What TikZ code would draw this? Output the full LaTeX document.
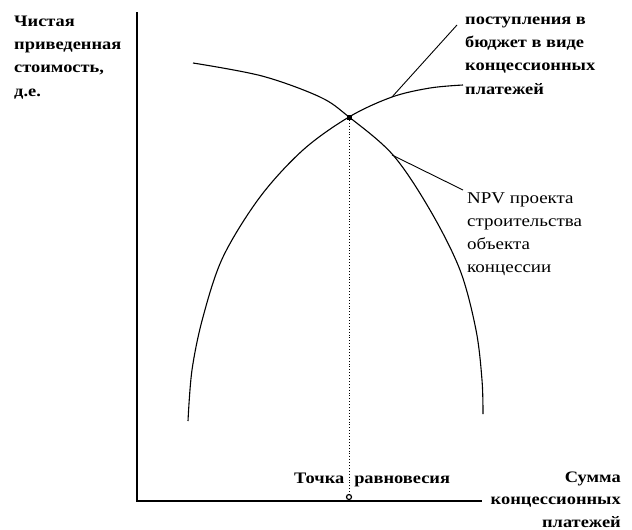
\documentclass[tikz,border=0pt]{standalone}
\usepackage{fontspec}
\setmainfont{Liberation Serif}[FakeStretch=1.15]
\begin{document}
\begin{tikzpicture}[x=1pt,y=-1pt,
  lbl/.style={inner sep=0pt, align=left, anchor=base west, font=\fontsize{16}{23.2}\selectfont\bfseries},
  lblr/.style={inner sep=0pt, align=right, anchor=base east, font=\fontsize{16}{22.5}\selectfont\bfseries},
  lbln/.style={inner sep=0pt, align=left, anchor=base west, font=\fontsize{16.5}{23}\selectfont},
  curve/.style={line width=1.1pt},
  axis/.style={line width=1.3pt},
  leader/.style={line width=0.9pt}]
\useasboundingbox (0,0) rectangle (632,530);
% axes
\coordinate (O) at (137,501);
\coordinate (Ytop) at (137,12);
\coordinate (Xend) at (482,501);
\draw[axis] (Ytop) -- (O) -- (Xend);
% NPV curve
\draw[curve] plot[smooth, tension=0.55] coordinates {(193,63) (262,76) (320,97) (349,117) (393,155) (430,210) (460,270) (476,330) (482,380) (483,414)};
% budget curve
\draw[curve] plot[smooth, tension=0.55] coordinates {(188,421) (192,370) (203,317) (223,257) (260,197) (303,150) (349,117) (392,97) (430,88) (463,85)};
% points
\coordinate (E) at (349,117);
\coordinate (Eb) at (349,497);
\coordinate (c2) at (392,97);
\coordinate (c1) at (392,155);
\draw[line width=0.9pt, dotted] (E) -- (Eb);
\node[draw, fill=black, minimum size=4pt, inner sep=0pt] (Em) at (E) {};
\node[draw, circle, line width=1.2pt, fill=white, minimum size=5pt, inner sep=0pt] (Ebm) at (Eb) {};
% labels
\node[lbl] (ylab) at (14,96) {Чистая\\приведенная\\стоимость,\\д.е.};
\node[lbl] (blab) at (465,94) {поступления в\\бюджет в виде\\концессионных\\платежей};
\node[lbln] (nlab) at (467,272) {NPV проекта\\строительства\\объекта\\концессии};
\node[lbl] (tlab) at (294,483) {Точка\hspace{10pt}равновесия};
\node[lblr] (xlab) at (621,527) {Сумма\\концессионных\\платежей};
\coordinate (bl) at (457,25);
\coordinate (nl) at (463,190);
\draw[leader] (c2) -- (bl);
\draw[leader] (c1) -- (nl);
\end{tikzpicture}
\end{document}
